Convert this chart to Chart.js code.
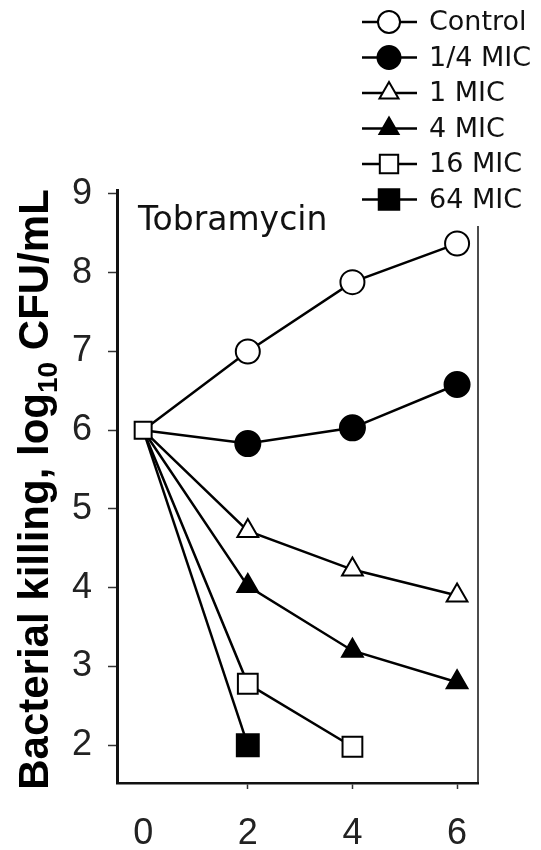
<!DOCTYPE html>
<html>
<head>
    <title>Tobramycin time-kill</title>
    <script src="https://cdn.jsdelivr.net/npm/chart.js"></script>
    <style>
        body { margin: 0; background: #fff; }
    </style>
</head>
<body>
    <canvas id="chart" width="541" height="850"></canvas>
    <script>
        // sampling times (h) and log10 CFU/mL for each concentration
        const hours = [0, 2, 4, 6];
        const control = [6.0, 7.0, 7.88, 8.37];
        const quarterMic = [6.0, 5.83, 6.03, 6.58];
        const oneMic = [6.0, 4.72, 4.23, 3.90];
        const fourMic = [6.0, 4.02, 3.20, 2.80];
        const sixteenMic = [6.0, 2.78, 1.98];
        const sixtyFourMic = [6.0, 2.0];

        const seriesNames = ['Control', '1/4 MIC', '1 MIC', '4 MIC', '16 MIC', '64 MIC'];
        const xTicks = [0, 2, 4, 6];
        const yTicks = [2, 3, 4, 5, 6, 7, 8, 9];

        function series(label, values, style, filled, r, showFirst) {
            return {
                label: label,
                data: values.map((v, i) => ({ x: hours[i], y: v })),
                borderColor: '#000',
                borderWidth: 2.5,
                tension: 0,
                pointStyle: style,
                pointBackgroundColor: filled ? '#000' : '#fff',
                pointBorderColor: '#000',
                pointBorderWidth: 2,
                pointRadius: values.map((v, i) => i === 0 ? (showFirst ? 12 : 0) : r),
                legendRadius: r,
                clip: false,
                order: showFirst ? -1 : 0
            };
        }

        const datasets = [
            series(seriesNames[0], control, 'circle', false, 12),
            series(seriesNames[1], quarterMic, 'circle', true, 12.5),
            series(seriesNames[2], oneMic, 'triangle', false, 12),
            series(seriesNames[3], fourMic, 'triangle', true, 12),
            series(seriesNames[4], sixteenMic, 'rect', false, 14, true),
            series(seriesNames[5], sixtyFourMic, 'rect', true, 15.5)
        ];

        function drawMarker(ctx, style, r, x, y) {
            ctx.beginPath();
            if (style === 'circle') {
                ctx.arc(x, y, r, 0, Math.PI * 2);
            } else if (style === 'triangle') {
                for (let k = 0; k < 3; k++) {
                    const a = k * Math.PI * 2 / 3;
                    const px = x + Math.sin(a) * r, py = y - Math.cos(a) * r;
                    if (k === 0) ctx.moveTo(px, py); else ctx.lineTo(px, py);
                }
                ctx.closePath();
            } else {
                const s = r * Math.SQRT1_2;
                ctx.rect(x - s, y - s, 2 * s, 2 * s);
            }
            ctx.fill();
            ctx.stroke();
        }

        // right frame line, inset label, y title with subscript and the key
        const decorations = {
            id: 'decorations',
            afterDraw(chart) {
                const ctx = chart.ctx;
                const area = chart.chartArea;
                ctx.save();

                ctx.strokeStyle = '#111';
                ctx.lineWidth = 1.5;
                ctx.beginPath();
                ctx.moveTo(area.right, area.top);
                ctx.lineTo(area.right, area.bottom + 1);
                ctx.stroke();

                ctx.fillStyle = '#111';
                ctx.font = '33px "DejaVu Sans"';
                ctx.textBaseline = 'alphabetic';
                ctx.textAlign = 'left';
                ctx.fillText('Tobramycin', area.left + 21, area.top + 40);

                // y title, rotated, with log10 subscript
                const big = 'bold 42px "Liberation Sans"';
                const small = 'bold 28px "Liberation Sans"';
                const partA = 'Bacterial killing, log';
                const partB = '10';
                const partC = ' CFU/mL';
                ctx.font = big;
                const wA = ctx.measureText(partA).width;
                const wC = ctx.measureText(partC).width;
                ctx.font = small;
                const wB = ctx.measureText(partB).width;
                const total = wA + wB + wC;
                ctx.translate(48, (area.top + area.bottom) / 2 + 3);
                ctx.rotate(-Math.PI / 2);
                ctx.fillStyle = '#000';
                let x = -total / 2;
                ctx.font = big;
                ctx.fillText(partA, x, 0);
                x += wA;
                ctx.font = small;
                ctx.fillText(partB, x, 9);
                x += wB;
                ctx.font = big;
                ctx.fillText(partC, x, 0);
                ctx.setTransform(1, 0, 0, 1, 0, 0);

                // key
                ctx.fillStyle = '#fff';
                ctx.fillRect(352, 0, chart.width - 352, 226);
                ctx.font = '27px "DejaVu Sans"';
                ctx.textBaseline = 'middle';
                chart.data.datasets.forEach((ds, i) => {
                    const y = 22 + i * 35.5;
                    ctx.strokeStyle = '#000';
                    ctx.lineWidth = 2.5;
                    ctx.beginPath();
                    ctx.moveTo(362, y);
                    ctx.lineTo(417, y);
                    ctx.stroke();
                    ctx.lineWidth = 2;
                    ctx.fillStyle = ds.pointBackgroundColor;
                    drawMarker(ctx, ds.pointStyle, ds.legendRadius - 1, 389, y);
                    ctx.fillStyle = '#111';
                    ctx.fillText(ds.label, 429, y + 1);
                });
                ctx.restore();
            }
        };

        new Chart(document.getElementById('chart'), {
            type: 'line',
            data: { datasets: datasets },
            options: {
                responsive: false,
                animation: false,
                devicePixelRatio: 1,
                layout: { padding: { top: 190, right: 63, bottom: 0, left: 0 } },
                plugins: { legend: { display: false }, tooltip: { enabled: false } },
                scales: {
                    x: {
                        type: 'linear',
                        min: -0.5,
                        max: 6.4,
                        afterFit: s => { s.height = 67; },
                        afterBuildTicks: s => { s.ticks = xTicks.map(v => ({ value: v })); },
                        border: { display: true, color: '#111', width: 2.5 },
                        grid: {
                            drawOnChartArea: false,
                            tickLength: 6,
                            tickWidth: 1.5,
                            tickColor: c => c.tick && c.tick.value === 0 ? 'rgba(0,0,0,0)' : '#333'
                        },
                        ticks: {
                            padding: 23,
                            color: '#222',
                            maxRotation: 0,
                            font: { family: '"Liberation Sans", Arial', size: 36 }
                        }
                    },
                    y: {
                        min: 1.52,
                        max: 9.05,
                        afterFit: s => { s.width = 117; },
                        afterBuildTicks: s => { s.ticks = yTicks.map(v => ({ value: v })); },
                        border: { display: true, color: '#111', width: 3 },
                        grid: {
                            drawOnChartArea: false,
                            tickLength: 9,
                            tickWidth: 1.5,
                            tickColor: '#333'
                        },
                        ticks: {
                            padding: 16,
                            color: '#222',
                            font: { family: '"Liberation Sans", Arial', size: 36 }
                        }
                    }
                }
            },
            plugins: [decorations]
        });
    </script>
</body>
</html>
